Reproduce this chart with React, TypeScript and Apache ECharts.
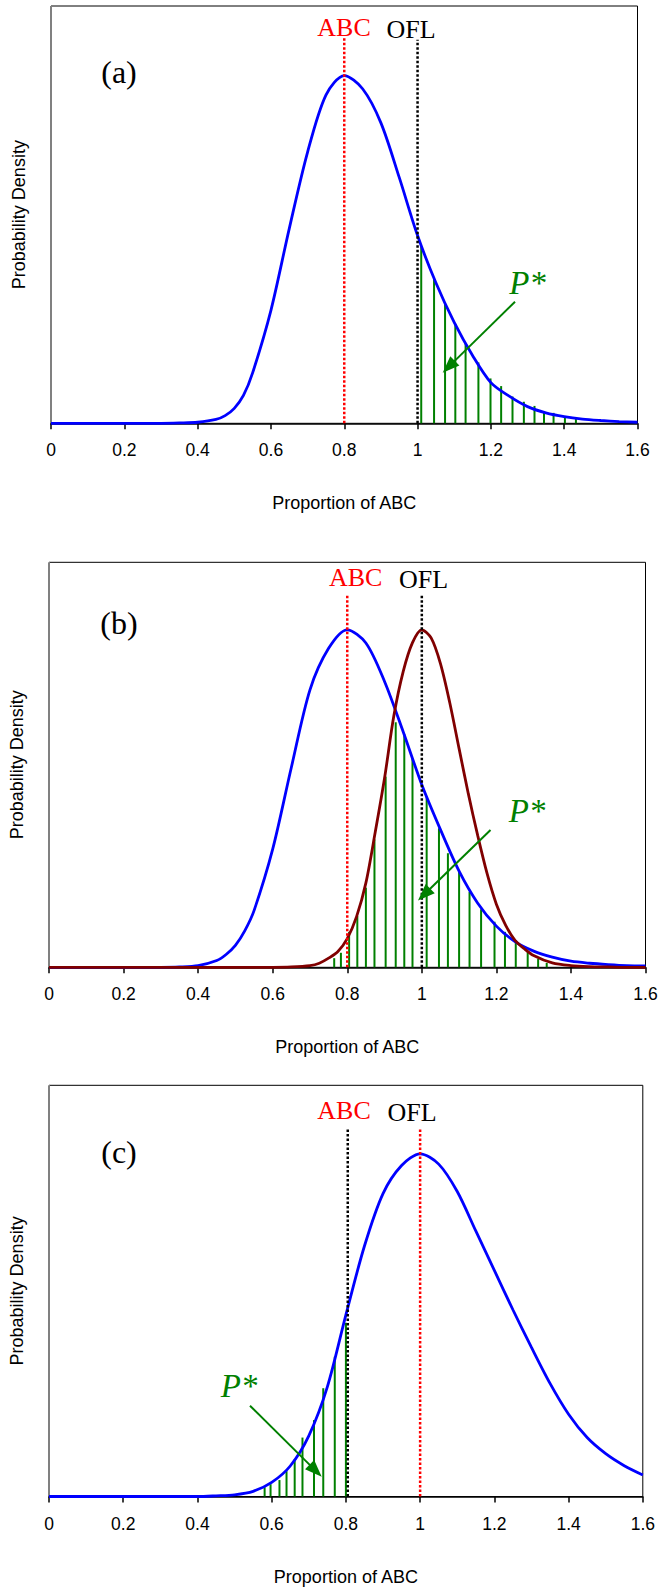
import React, { useEffect, useRef } from "react";
import * as echarts from "echarts";

// ---------- data ----------
const xTickValues = [0, 0.2, 0.4, 0.6, 0.8, 1, 1.2, 1.4, 1.6];

// panel (a) blue density
const curveAX = [0, 0.1, 0.2, 0.3, 0.35, 0.4, 0.45, 0.475, 0.5, 0.525, 0.55, 0.6, 0.65, 0.7, 0.75, 0.8, 0.85, 0.9, 0.95, 1.0, 1.05, 1.1, 1.15, 1.2, 1.25, 1.3, 1.35, 1.4, 1.45, 1.5, 1.55, 1.6];
const curveAY = [0, 0, 0, 0, 0.001, 0.003, 0.011, 0.022, 0.043, 0.08, 0.145, 0.325, 0.56, 0.78, 0.944, 1.0, 0.962, 0.864, 0.707, 0.54, 0.404, 0.29, 0.195, 0.117, 0.078, 0.048, 0.03, 0.019, 0.012, 0.008, 0.005, 0.003];
const barsAX = [1.010, 1.045, 1.075, 1.103, 1.131, 1.166, 1.199, 1.228, 1.259, 1.290, 1.319, 1.345, 1.371, 1.402, 1.432];
const barsAY = [0.508, 0.414, 0.345, 0.286, 0.230, 0.175, 0.129, 0.107, 0.077, 0.062, 0.050, 0.033, 0.030, 0.019, 0.016];

// panel (b) blue density and brown density
const curveBX = [0, 0.1, 0.2, 0.3, 0.35, 0.4, 0.45, 0.475, 0.5, 0.525, 0.55, 0.6, 0.65, 0.7, 0.75, 0.8, 0.85, 0.9, 0.95, 1.0, 1.05, 1.1, 1.15, 1.2, 1.25, 1.3, 1.35, 1.4, 1.45, 1.5, 1.55, 1.6];
const curveBY = [0, 0, 0, 0, 0.001, 0.005, 0.02, 0.038, 0.065, 0.108, 0.168, 0.35, 0.592, 0.822, 0.945, 1.0, 0.961, 0.847, 0.698, 0.541, 0.408, 0.285, 0.19, 0.122, 0.076, 0.048, 0.03, 0.018, 0.012, 0.008, 0.005, 0.004];
const brownBX = [0, 0.2, 0.4, 0.6, 0.65, 0.7, 0.725, 0.75, 0.775, 0.8, 0.825, 0.85, 0.875, 0.9, 0.925, 0.95, 0.975, 1.0, 1.025, 1.05, 1.075, 1.1, 1.125, 1.15, 1.175, 1.2, 1.225, 1.25, 1.275, 1.3, 1.35, 1.4, 1.45, 1.5, 1.55, 1.6];
const brownBY = [0, 0, 0, 0, 0.001, 0.005, 0.012, 0.027, 0.047, 0.085, 0.15, 0.25, 0.40, 0.56, 0.745, 0.876, 0.962, 1.0, 0.976, 0.90, 0.784, 0.648, 0.513, 0.39, 0.278, 0.187, 0.124, 0.08, 0.055, 0.035, 0.013, 0.005, 0.002, 0.001, 0, 0];
const barsBX = [0.765, 0.783, 0.805, 0.827, 0.850, 0.873, 0.903, 0.930, 0.953, 0.975, 1.013, 1.046, 1.070, 1.100, 1.128, 1.159, 1.195, 1.223, 1.252, 1.284, 1.312, 1.335];
const barsBY = [0.027, 0.043, 0.105, 0.152, 0.236, 0.379, 0.565, 0.726, 0.691, 0.618, 0.506, 0.412, 0.338, 0.283, 0.224, 0.172, 0.135, 0.105, 0.08, 0.045, 0.025, 0.013];

// panel (c) blue density
const curveCX = [0, 0.2, 0.4, 0.45, 0.5, 0.55, 0.6, 0.65, 0.7, 0.75, 0.8, 0.85, 0.9, 0.95, 1.0, 1.05, 1.1, 1.15, 1.2, 1.25, 1.3, 1.35, 1.4, 1.45, 1.5, 1.55, 1.6];
const curveCY = [0, 0, 0, 0.002, 0.005, 0.015, 0.041, 0.089, 0.177, 0.32, 0.53, 0.731, 0.884, 0.966, 1.0, 0.97, 0.89, 0.775, 0.66, 0.545, 0.435, 0.33, 0.24, 0.172, 0.125, 0.09, 0.063];
const barsCX = [0.581, 0.597, 0.621, 0.640, 0.662, 0.683, 0.714, 0.739, 0.770, 0.800];
const barsCY = [0.027, 0.036, 0.048, 0.074, 0.109, 0.172, 0.223, 0.316, 0.408, 0.507];

// reference lines: x and top
const refLinesA = [{ x: 0.8, top: 1.11, color: "#FF0000" }, { x: 1.0, top: 1.103, color: "#000000" }];
const refLinesB = [{ x: 0.8, top: 1.106, color: "#FF0000" }, { x: 1.0, top: 1.106, color: "#000000" }];
const refLinesC = [{ x: 0.805, top: 1.073, color: "#000000" }, { x: 1.0, top: 1.073, color: "#FF0000" }];

const panelLetters = ["(a)", "(b)", "(c)"];
const xAxisTitle = "Proportion of ABC";
const yAxisTitle = "Probability Density";

// ---------- styling / layout ----------
const SERIF = '"Liberation Serif", "Times New Roman", Times, serif';
const SANS = '"Liberation Sans", Arial, Helvetica, sans-serif';
const BLUE = "#0000FF";
const BROWN = "#800000";
const GREEN = "#008000";
const RED = "#FF0000";

const grids = [
  { left: 51, top: 6, width: 586.5, height: 417.3 },
  { left: 48.7, top: 562.3, width: 596.8, height: 405 },
  { left: 48.4, top: 1085.3, width: 594.4, height: 411.2 },
];

const zip = (xs: number[], ys: number[]) => xs.map((x, i) => [x, ys[i]]);

function curve(xs: number[], ys: number[], idx: number, color: string) {
  return {
    type: "line",
    xAxisIndex: idx,
    yAxisIndex: idx,
    data: zip(xs, ys),
    showSymbol: false,
    symbol: "none",
    smooth: 0.3,
    clip: false,
    lineStyle: { color, width: 2.8 },
    z: 3,
  };
}

function bars(xs: number[], ys: number[], idx: number) {
  return {
    type: "bar",
    xAxisIndex: idx,
    yAxisIndex: idx,
    data: zip(xs, ys),
    barWidth: 2,
    itemStyle: { color: GREEN },
    z: 2,
  };
}

function refLines(lines: { x: number; top: number; color: string }[], idx: number) {
  return lines.map((l) => ({
    type: "line",
    xAxisIndex: idx,
    yAxisIndex: idx,
    data: [[l.x, 0], [l.x, l.top]],
    showSymbol: false,
    symbol: "none",
    clip: false,
    lineStyle: { color: l.color, width: 2.5, type: [2.5, 2] },
    z: 4,
  }));
}

function text(t: string, x: number, y: number, size: number, color: string, family: string, italic = false) {
  return {
    type: "text",
    x,
    y,
    z: 10,
    style: {
      text: t,
      fill: color,
      fontSize: size,
      fontFamily: family,
      fontStyle: italic ? "italic" : "normal",
      align: "center",
      verticalAlign: "middle",
    },
  };
}

function arrow(sx: number, sy: number, tx: number, ty: number) {
  const dx = tx - sx;
  const dy = ty - sy;
  const L = Math.hypot(dx, dy);
  const ux = dx / L;
  const uy = dy / L;
  const hl = 17;
  const hw = 13;
  const bx = tx - ux * hl;
  const by = ty - uy * hl;
  const nx = -uy;
  const ny = ux;
  return [
    {
      type: "line",
      z: 10,
      shape: { x1: sx, y1: sy, x2: bx + ux * 3, y2: by + uy * 3 },
      style: { stroke: GREEN, lineWidth: 2 },
    },
    {
      type: "polygon",
      z: 10,
      shape: {
        points: [
          [tx, ty],
          [bx + (nx * hw) / 2, by + (ny * hw) / 2],
          [bx - (nx * hw) / 2, by - (ny * hw) / 2],
        ],
      },
      style: { fill: GREEN },
    },
  ];
}

// annotation placements (pixels)
const annotations = [
  { letter: [119, 72], abc: [344, 27], ofl: [411, 29], pstar: [527.5, 283], arrow: [515, 301.7, 442.7, 372.7] },
  { letter: [119, 623], abc: [355.7, 577], ofl: [423.6, 579.5], pstar: [527, 811], arrow: [490.5, 830, 418, 900.5] },
  { letter: [119, 1152], abc: [344, 1110], ofl: [412, 1112], pstar: [239, 1386], arrow: [250, 1405.7, 321.7, 1476.7] },
];

export default function App() {
  const ref = useRef<HTMLDivElement>(null);

  useEffect(() => {
    if (!ref.current) return;
    const chart = echarts.init(ref.current, undefined, { renderer: "svg" });

    const xAxes = grids.map((_, i) => ({
      type: "value",
      gridIndex: i,
      min: xTickValues[0],
      max: xTickValues[xTickValues.length - 1],
      interval: 0.2,
      name: xAxisTitle,
      nameLocation: "middle",
      nameGap: 71,
      nameTextStyle: { fontFamily: SANS, fontSize: 18, color: "#000" },
      axisLine: { show: true, onZero: false, lineStyle: { color: "#000", width: 1.5 } },
      axisTick: { show: true, inside: false, length: 6, lineStyle: { color: "#000", width: 1.5 } },
      axisLabel: { show: true, margin: 18, fontFamily: SANS, fontSize: 17.5, color: "#000" },
      splitLine: { show: false },
    }));

    const yAxes = grids.map((_, i) => ({
      type: "value",
      gridIndex: i,
      min: 0,
      max: 1.2,
      name: yAxisTitle,
      nameLocation: "middle",
      nameGap: 23,
      nameTextStyle: { fontFamily: SANS, fontSize: 18, color: "#000" },
      axisLine: { show: true, lineStyle: { color: "#808080", width: 1 } },
      axisTick: { show: false },
      axisLabel: { show: false },
      splitLine: { show: false },
    }));

    const series: any[] = [
      bars(barsAX, barsAY, 0),
      curve(curveAX, curveAY, 0, BLUE),
      ...refLines(refLinesA, 0),
      bars(barsBX, barsBY, 1),
      curve(curveBX, curveBY, 1, BLUE),
      curve(brownBX, brownBY, 1, BROWN),
      ...refLines(refLinesB, 1),
      bars(barsCX, barsCY, 2),
      curve(curveCX, curveCY, 2, BLUE),
      ...refLines(refLinesC, 2),
    ];

    const graphics: any[] = [];
    annotations.forEach((a, i) => {
      graphics.push(text(panelLetters[i], a.letter[0], a.letter[1], 32, "#000", SERIF));
      graphics.push(text("ABC", a.abc[0], a.abc[1], 26, RED, SERIF));
      graphics.push(text("OFL", a.ofl[0], a.ofl[1], 26, "#000", SERIF));
      graphics.push(text("P*", a.pstar[0], a.pstar[1], 33, GREEN, SERIF, true));
      graphics.push(...arrow(a.arrow[0], a.arrow[1], a.arrow[2], a.arrow[3]));
    });

    chart.setOption({
      animation: false,
      backgroundColor: "#fff",
      grid: grids.map((g) => ({
        ...g,
        show: true,
        borderColor: "#000",
        borderWidth: 1,
        backgroundColor: "transparent",
        containLabel: false,
      })),
      xAxis: xAxes,
      yAxis: yAxes,
      series,
      graphic: graphics,
    });

    return () => chart.dispose();
  }, []);

  return (
    <div
      ref={ref}
      style={{ position: "absolute", left: 0, top: 0, width: 662, height: 1589 }}
    />
  );
}
